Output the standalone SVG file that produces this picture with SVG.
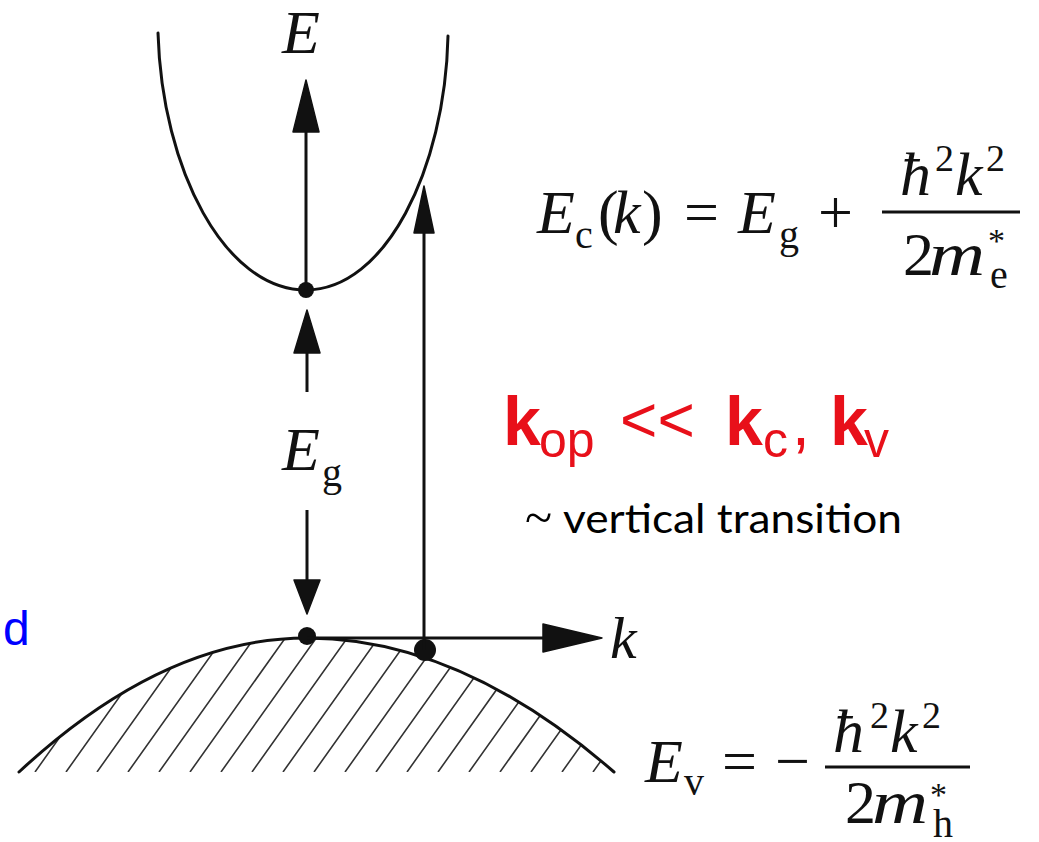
<svg xmlns="http://www.w3.org/2000/svg" width="1039" height="842" viewBox="0 0 1039 842">
<style>
.curve{fill:none;stroke:#111;stroke-width:3;stroke-linecap:round}
.ln{stroke:#111;stroke-width:3}
.head{fill:#111;stroke:#111;stroke-width:1.5;stroke-linejoin:round}
.dot{fill:#111}
.hatch{stroke:#333;stroke-width:1.6}
.ser{font-family:"Liberation Serif","Times New Roman",serif;fill:#111}
.it{font-style:italic}
.red{font-family:"Liberation Sans",Arial,sans-serif;fill:#e8101a}
.note{font-family:Lato,"Open Sans",sans-serif;fill:#000}
</style>
<defs>
<clipPath id="vbClip"><path d="M19 772 Q163 638 307 638 Q460 638 614 772 Z"/></clipPath>
</defs>
<rect width="1039" height="842" fill="#fff"/>

<g id="conduction-band">
<path class="curve" d="M158 33 C162 170 225 290 306 290 C385 290 445 170 448 36"/>
<circle class="dot" cx="306" cy="290" r="8"/>
</g>

<g id="valence-band">
<g clip-path="url(#vbClip)">
<path class="hatch" d="M-120 772 l96 -135 M-89 772 l96 -135 M-58 772 l96 -135 M-27 772 l96 -135 M4 772 l96 -135 M35 772 l96 -135 M66 772 l96 -135 M97 772 l96 -135 M128 772 l96 -135 M159 772 l96 -135 M190 772 l96 -135 M221 772 l96 -135 M252 772 l96 -135 M283 772 l96 -135 M314 772 l96 -135 M345 772 l96 -135 M376 772 l96 -135 M407 772 l96 -135 M438 772 l96 -135 M469 772 l96 -135 M500 772 l96 -135 M531 772 l96 -135 M562 772 l96 -135 M593 772 l96 -135"/>
</g>
<path class="curve" d="M19 772 Q163 638 307 638 Q460 638 614 772"/>
<circle class="dot" cx="307" cy="636" r="9"/>
<circle class="dot" cx="425" cy="650" r="11"/>
</g>

<g id="connectors">
<line class="ln" x1="306" y1="130" x2="306" y2="290"/>
<polygon class="head" points="306,80 293,132 319,132"/>
<line class="ln" x1="307" y1="350" x2="307" y2="392"/>
<polygon class="head" points="307,310 294,353 320,353"/>
<line class="ln" x1="307" y1="510" x2="307" y2="582"/>
<polygon class="head" points="294,580 320,580 307,614"/>
<line class="ln" x1="424" y1="230" x2="424" y2="650"/>
<polygon class="head" points="424,186 414,233 434,233"/>
<line class="ln" x1="307" y1="638" x2="545" y2="638"/>
<polygon class="head" points="602,638 543,624 543,652"/>
</g>

<g id="label-E">
<text class="ser it" x="282" y="53" font-size="62">E</text>
</g>
<g id="label-k">
<text class="ser it" x="610" y="658" font-size="60">k</text>
</g>
<g id="label-Eg">
<text class="ser" y="470" font-size="62"><tspan class="it" x="282">E</tspan><tspan x="322" y="486" font-size="40">g</tspan></text>
</g>

<g id="formula-Ec">
<text class="ser" y="233" font-size="62"><tspan class="it" x="537">E</tspan><tspan x="575" y="248" font-size="40">c</tspan><tspan x="598" y="233">(</tspan><tspan class="it" x="613">k</tspan><tspan x="642">)</tspan><tspan x="684">=</tspan><tspan class="it" x="738">E</tspan><tspan x="779" y="248" font-size="40">g</tspan><tspan x="818" y="233">+</tspan></text>
<line class="ln" x1="882" y1="212" x2="1020" y2="212" stroke-width="2.5"/>
<text class="ser" y="195" font-size="62"><tspan class="it" x="900">ħ</tspan><tspan x="935" y="171" font-size="38">2</tspan><tspan class="it" x="955" y="195">k</tspan><tspan x="986" y="171" font-size="38">2</tspan></text>
<text class="ser" x="903" y="275" font-size="62">2</text>
<text class="ser it" x="929" y="275" font-size="62" textLength="56" lengthAdjust="spacingAndGlyphs">m</text>
<text class="ser" x="988" y="252" font-size="34">*</text>
<text class="ser" x="990" y="288" font-size="40">e</text>
</g>

<g id="formula-Ev">
<text class="ser" y="782" font-size="62"><tspan class="it" x="645">E</tspan><tspan x="684" y="795" font-size="40">v</tspan><tspan x="722" y="782">=</tspan><tspan x="775">−</tspan></text>
<line class="ln" x1="825" y1="767" x2="970" y2="767" stroke-width="2.5"/>
<text class="ser" y="752" font-size="62"><tspan class="it" x="833">ħ</tspan><tspan x="870" y="728" font-size="38">2</tspan><tspan class="it" x="890" y="752">k</tspan><tspan x="922" y="728" font-size="38">2</tspan></text>
<text class="ser" x="845" y="823" font-size="62">2</text>
<text class="ser it" x="872" y="823" font-size="62" textLength="56" lengthAdjust="spacingAndGlyphs">m</text>
<text class="ser" x="930" y="806" font-size="34">*</text>
<text class="ser" x="933" y="837" font-size="40">h</text>
</g>

<g id="label-kop">
<text class="red" y="445" font-size="64"><tspan x="503" font-weight="bold" font-size="68">k</tspan><tspan x="539" y="457" font-size="50">op</tspan><tspan x="620" y="442" font-size="64">&lt;&lt;</tspan><tspan x="725" y="445" font-weight="bold" font-size="68">k</tspan><tspan x="763" y="457" font-size="50">c</tspan><tspan x="792" y="445">,</tspan><tspan x="830" font-weight="bold" font-size="68">k</tspan><tspan x="864" y="457" font-size="50">v</tspan></text>
</g>

<g id="label-vertical">
<text class="note" y="533" font-size="40"><tspan x="525" y="534" font-size="50" font-family="'Liberation Serif',serif">~</tspan><tspan x="563" y="533" textLength="339" lengthAdjust="spacingAndGlyphs">vertical transition</tspan></text>
</g>

<g id="label-blue">
<text x="3" y="645" font-family="'Liberation Sans',Arial,sans-serif" font-size="48" fill="#0000ff">d</text>
</g>
</svg>
